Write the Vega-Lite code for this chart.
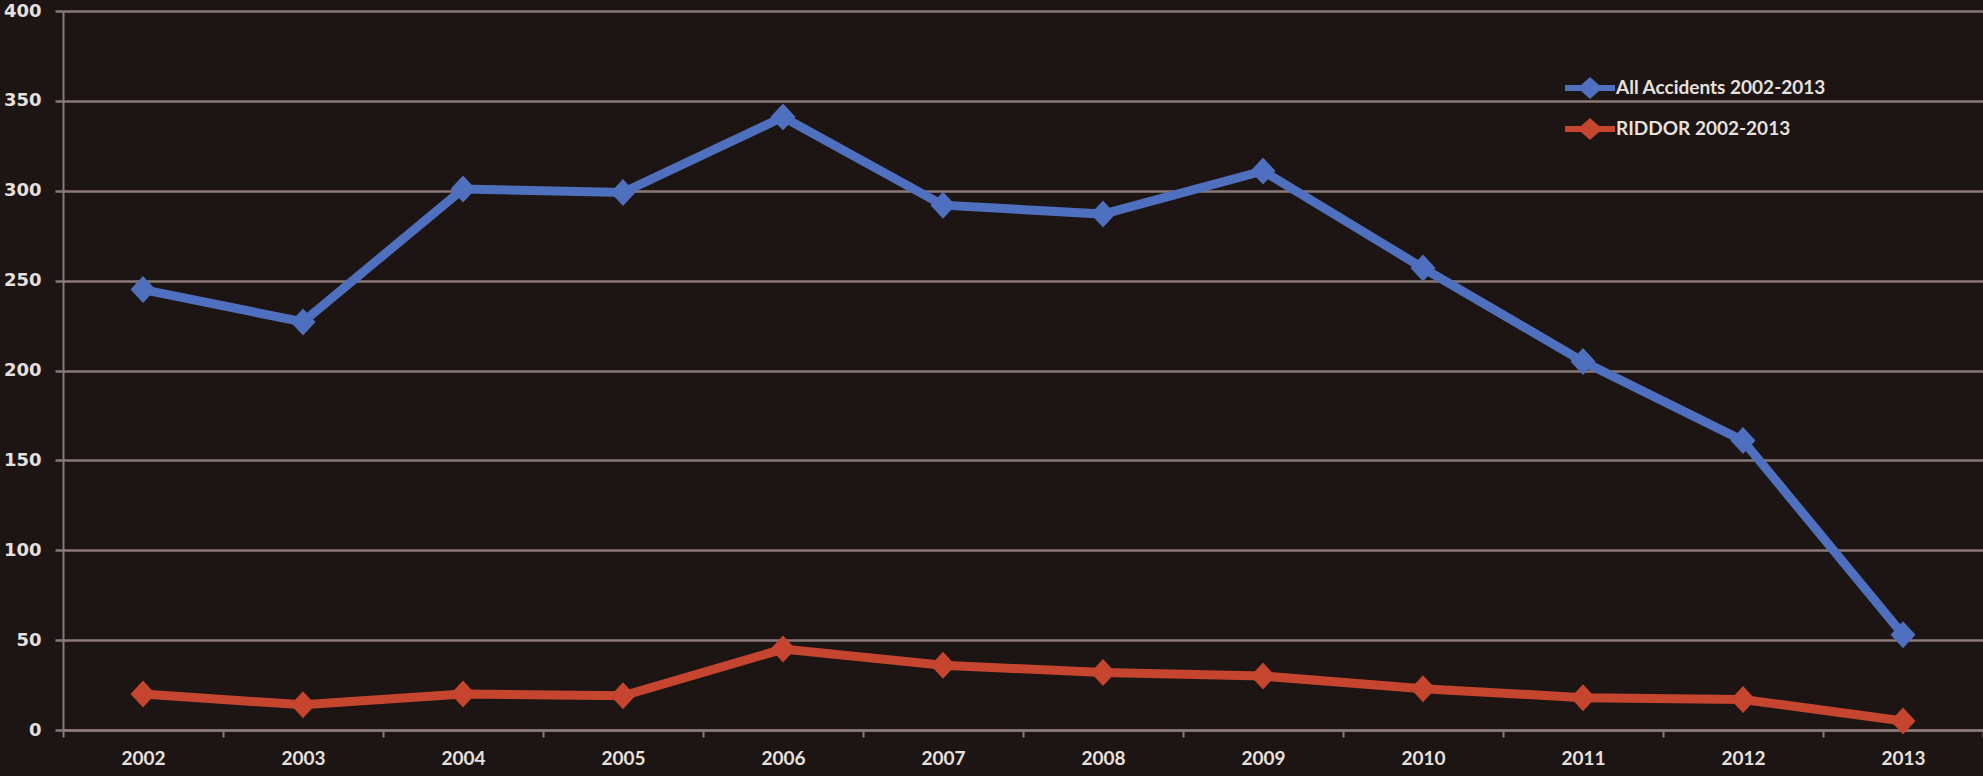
{
  "$schema": "https://vega.github.io/schema/vega-lite/v6.json",
  "width": 1920,
  "height": 719,
  "autosize": {"type": "none"},
  "padding": {"left": 63, "top": 11, "right": 0, "bottom": 46},
  "background": "#1d1513",
  "config": {
    "view": {"stroke": null},
    "axis": {
      "labelColor": "#e6e1de",
      "labelFontWeight": "bold",
      "domainColor": "#8a7a77",
      "tickColor": "#8a7a77",
      "gridColor": "#8a7a77",
      "title": null
    }
  },
  "data": {
    "values": [
      {"year": "2002", "series": "All Accidents 2002-2013", "value": 245},
      {"year": "2003", "series": "All Accidents 2002-2013", "value": 227},
      {"year": "2004", "series": "All Accidents 2002-2013", "value": 301},
      {"year": "2005", "series": "All Accidents 2002-2013", "value": 299},
      {"year": "2006", "series": "All Accidents 2002-2013", "value": 341},
      {"year": "2007", "series": "All Accidents 2002-2013", "value": 292},
      {"year": "2008", "series": "All Accidents 2002-2013", "value": 287},
      {"year": "2009", "series": "All Accidents 2002-2013", "value": 311},
      {"year": "2010", "series": "All Accidents 2002-2013", "value": 257},
      {"year": "2011", "series": "All Accidents 2002-2013", "value": 205},
      {"year": "2012", "series": "All Accidents 2002-2013", "value": 161},
      {"year": "2013", "series": "All Accidents 2002-2013", "value": 53},
      {"year": "2002", "series": "RIDDOR 2002-2013", "value": 20},
      {"year": "2003", "series": "RIDDOR 2002-2013", "value": 14},
      {"year": "2004", "series": "RIDDOR 2002-2013", "value": 20},
      {"year": "2005", "series": "RIDDOR 2002-2013", "value": 19},
      {"year": "2006", "series": "RIDDOR 2002-2013", "value": 45},
      {"year": "2007", "series": "RIDDOR 2002-2013", "value": 36},
      {"year": "2008", "series": "RIDDOR 2002-2013", "value": 32},
      {"year": "2009", "series": "RIDDOR 2002-2013", "value": 30},
      {"year": "2010", "series": "RIDDOR 2002-2013", "value": 23},
      {"year": "2011", "series": "RIDDOR 2002-2013", "value": 18},
      {"year": "2012", "series": "RIDDOR 2002-2013", "value": 17},
      {"year": "2013", "series": "RIDDOR 2002-2013", "value": 5}
    ]
  },
  "encoding": {
    "x": {
      "field": "year",
      "type": "ordinal",
      "bandPosition": 0.5,
      "scale": {"type": "band", "paddingInner": 0, "paddingOuter": 0},
      "axis": {
        "labelAngle": 0,
        "labelFont": "Lato",
        "labelFontSize": 19,
        "tickBand": "extent",
        "tickSize": 7,
        "tickWidth": 2,
        "domainWidth": 2.5,
        "labelPadding": 12,
        "grid": false
      }
    },
    "y": {
      "field": "value",
      "type": "quantitative",
      "scale": {"domain": [0, 400], "nice": false},
      "axis": {
        "values": [0, 50, 100, 150, 200, 250, 300, 350, 400],
        "labelFont": "DejaVu Sans",
        "labelFontSize": 18,
        "tickSize": 8,
        "tickWidth": 2.5,
        "gridWidth": 2.5,
        "domainWidth": 2,
        "labelPadding": 14,
        "grid": true
      }
    },
    "color": {
      "field": "series",
      "type": "nominal",
      "scale": {
        "domain": ["All Accidents 2002-2013", "RIDDOR 2002-2013"],
        "range": ["#4f6fbf", "#c5452f"]
      },
      "legend": {
        "title": null,
        "orient": "none",
        "legendX": 1507,
        "legendY": 57,
        "padding": 0,
        "symbolType": "M-1.25,-0.15H-0.45L0,-0.55L0.45,-0.15H1.25V0.15H0.45L0,0.55L-0.45,0.15H-1.25Z",
        "symbolSize": 1600,
        "symbolStrokeWidth": 0,
        "symbolOpacity": 1,
        "labelFont": "Lato",
        "labelFontSize": 19,
        "labelFontWeight": "bold",
        "labelColor": "#e6e1de",
        "labelOffset": 6,
        "rowPadding": 10,
        "labelLimit": 400
      }
    }
  },
  "layer": [
    {
      "mark": {"type": "line", "strokeWidth": 9, "strokeJoin": "miter"}
    },
    {
      "mark": {
        "type": "point",
        "filled": true,
        "opacity": 1,
        "shape": "M0,-1.08L1,0L0,1.08L-1,0Z",
        "size": 625
      }
    }
  ]
}
